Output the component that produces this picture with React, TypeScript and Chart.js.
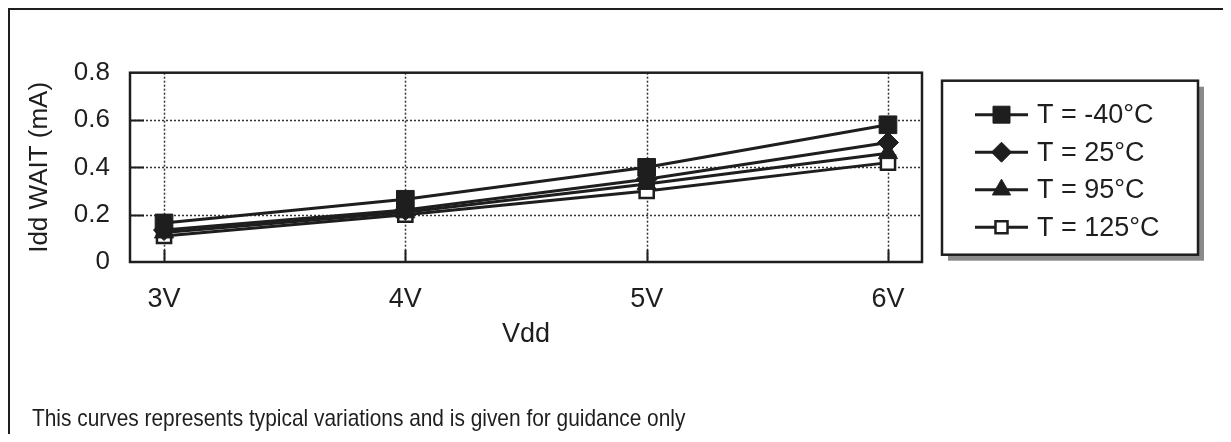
import { useEffect, useRef } from "react";
import { Chart, registerables } from "chart.js";
import * as helpers from "chart.js/helpers";

Chart.register(...registerables);

const voltages = [3, 4, 5, 6];
const xTickLabels = ["3V", "4V", "5V", "6V"];
const seriesLabels = ["T = -40°C", "T = 25°C", "T = 95°C", "T = 125°C"];
const tMinus40 = [0.165, 0.265, 0.4, 0.58];
const t25 = [0.135, 0.22, 0.35, 0.505];
const t95 = [0.125, 0.21, 0.33, 0.46];
const t125 = [0.11, 0.2, 0.3, 0.42];
const yTickValues = [0, 0.2, 0.4, 0.6, 0.8];
const yTickLabels = ["0", "0.2", "0.4", "0.6", "0.8"];
const xAxisTitle = "Vdd";
const yAxisTitle = "Idd WAIT (mA)";
const footnote =
  "This curves represents typical variations and is given for guidance only";

const FONT = "'Liberation Sans', Arial, Helvetica, sans-serif";
const INK = "#1e1e1e";

const pointSpecs = [
  { style: "rect", radius: 12.5, legendRadius: 12, fill: INK, border: 1 },
  { style: "rectRot", radius: 10.5, legendRadius: 10, fill: INK, border: 1 },
  { style: "triangle", radius: 11, legendRadius: 10.5, fill: INK, border: 1 },
  { style: "rect", radius: 10, legendRadius: 8.5, fill: "#ffffff", border: 2.5 },
];
const seriesValues = [tMinus40, t25, t95, t125];

const frameAndGrid = {
  id: "frameAndGrid",
  beforeDatasetsDraw(chart: any) {
    const { ctx, chartArea } = chart;
    const xs = chart.scales.x;
    const ys = chart.scales.y;
    ctx.save();
    ctx.strokeStyle = "#333";
    ctx.lineWidth = 1.5;
    ctx.setLineDash([2, 2]);
    yTickValues.forEach((v) => {
      if (v === ys.min || v === ys.max) return;
      const y = Math.round(ys.getPixelForValue(v)) + 0.5;
      ctx.beginPath();
      ctx.moveTo(chartArea.left, y);
      ctx.lineTo(chartArea.right, y);
      ctx.stroke();
    });
    voltages.forEach((v) => {
      const x = Math.round(xs.getPixelForValue(v)) + 0.5;
      ctx.beginPath();
      ctx.moveTo(x, chartArea.top);
      ctx.lineTo(x, chartArea.bottom);
      ctx.stroke();
    });
    ctx.setLineDash([]);
    ctx.strokeStyle = INK;
    ctx.lineWidth = 2;
    yTickValues.forEach((v) => {
      if (v === ys.min || v === ys.max) return;
      const y = Math.round(ys.getPixelForValue(v)) + 0.5;
      ctx.beginPath();
      ctx.moveTo(chartArea.left, y);
      ctx.lineTo(chartArea.left + 14, y);
      ctx.stroke();
    });
    voltages.forEach((v) => {
      const x = Math.round(xs.getPixelForValue(v)) + 0.5;
      ctx.beginPath();
      ctx.moveTo(x, chartArea.bottom);
      ctx.lineTo(x, chartArea.bottom - 12);
      ctx.stroke();
    });
    ctx.lineWidth = 2.5;
    ctx.strokeRect(
      chartArea.left,
      chartArea.top,
      chartArea.right - chartArea.left,
      chartArea.bottom - chartArea.top
    );
    ctx.restore();
  },
};

const boxLegend = {
  id: "boxLegend",
  afterDraw(chart: any) {
    const { ctx, chartArea } = chart;
    const left = chartArea.right + 20;
    const top = chartArea.top + 8;
    const w = 256;
    const h = 174;
    ctx.save();
    ctx.fillStyle = "#8a8a8a";
    ctx.fillRect(left + 6, top + 6, w, h);
    ctx.fillStyle = "#ffffff";
    ctx.fillRect(left, top, w, h);
    ctx.strokeStyle = INK;
    ctx.lineWidth = 2.5;
    ctx.strokeRect(left, top, w, h);
    chart.data.datasets.forEach((ds: any, i: number) => {
      const cy = top + 34 + i * 37.5;
      ctx.strokeStyle = INK;
      ctx.lineWidth = 3;
      ctx.beginPath();
      ctx.moveTo(left + 33, cy);
      ctx.lineTo(left + 86, cy);
      ctx.stroke();
      const spec = pointSpecs[i];
      ctx.fillStyle = spec.fill;
      ctx.lineWidth = spec.border;
      helpers.drawPoint(
        ctx,
        {
          pointStyle: spec.style,
          radius: spec.legendRadius,
          rotation: 0,
          borderWidth: spec.border,
        },
        left + 59.5,
        cy
      );
      ctx.fillStyle = INK;
      ctx.font = `27px ${FONT}`;
      ctx.textBaseline = "middle";
      ctx.textAlign = "left";
      ctx.fillText(ds.label, left + 95, cy + 1);
    });
    ctx.restore();
  },
};

export default function App() {
  const ref = useRef<HTMLCanvasElement>(null);
  useEffect(() => {
    if (!ref.current) return;
    const datasets = seriesLabels.map((label, i) => ({
      label,
      data: voltages.map((v, j) => ({ x: v, y: seriesValues[i][j] })),
      borderColor: INK,
      borderWidth: 3,
      pointStyle: pointSpecs[i].style,
      pointRadius: pointSpecs[i].radius,
      pointBackgroundColor: pointSpecs[i].fill,
      pointBorderColor: INK,
      pointBorderWidth: pointSpecs[i].border,
      fill: false,
      tension: 0,
    }));
    const chart = new Chart(ref.current, {
      type: "line",
      data: { datasets },
      plugins: [frameAndGrid, boxLegend],
      options: {
        animation: false,
        responsive: false,
        devicePixelRatio: 1,
        layout: { padding: { top: 64.7, left: 0, right: 309, bottom: 72 } },
        plugins: { legend: { display: false }, tooltip: { enabled: false } },
        scales: {
          x: {
            type: "linear",
            min: 2.859,
            max: 6.141,
            afterBuildTicks: (scale: any) => {
              scale.ticks = voltages.map((v) => ({ value: v }));
            },
            afterFit: (scale: any) => {
              scale.height = 100;
            },
            grid: { display: false, drawTicks: false },
            border: { display: false },
            ticks: {
              padding: 21,
              color: INK,
              font: { family: FONT, size: 27 },
              callback: (v: any) => xTickLabels[voltages.indexOf(Number(v))],
            },
            title: {
              display: true,
              text: xAxisTitle,
              color: INK,
              font: { family: FONT, size: 27 },
              padding: { top: 0, bottom: 11 },
            },
          },
          y: {
            type: "linear",
            min: 0,
            max: 0.8,
            afterBuildTicks: (scale: any) => {
              scale.ticks = yTickValues.map((v) => ({ value: v }));
            },
            afterFit: (scale: any) => {
              scale.width = 122;
            },
            grid: { display: false, drawTicks: false },
            border: { display: false },
            ticks: {
              padding: 20,
              color: INK,
              font: { family: FONT, size: 26 },
              callback: (v: any) => yTickLabels[yTickValues.indexOf(Number(v))],
            },
            title: {
              display: true,
              text: yAxisTitle,
              color: INK,
              font: { family: FONT, size: 26 },
              padding: { top: 16.4, bottom: 0 },
            },
          },
        },
      },
    } as any);
    return () => chart.destroy();
  }, []);

  return (
    <div
      style={{
        position: "relative",
        width: 1223,
        height: 426,
        overflow: "hidden",
        background: "#fff",
      }}
    >
      <canvas
        ref={ref}
        width={1223}
        height={426}
        style={{ position: "absolute", left: 0, top: 0, width: 1223, height: 426 }}
      />
      <div
        style={{
          position: "absolute",
          left: 0,
          top: 0,
          width: 1223,
          height: 440,
          border: `2px solid ${INK}`,
          boxSizing: "border-box",
          pointerEvents: "none",
        }}
      />
      <div
        style={{
          position: "absolute",
          left: 24,
          top: 398.4,
          fontFamily: FONT,
          fontSize: 24,
          lineHeight: "24px",
          color: INK,
          whiteSpace: "nowrap",
          transform: "scaleX(0.87)",
          transformOrigin: "left top",
        }}
      >
        {footnote}
      </div>
    </div>
  );
}
